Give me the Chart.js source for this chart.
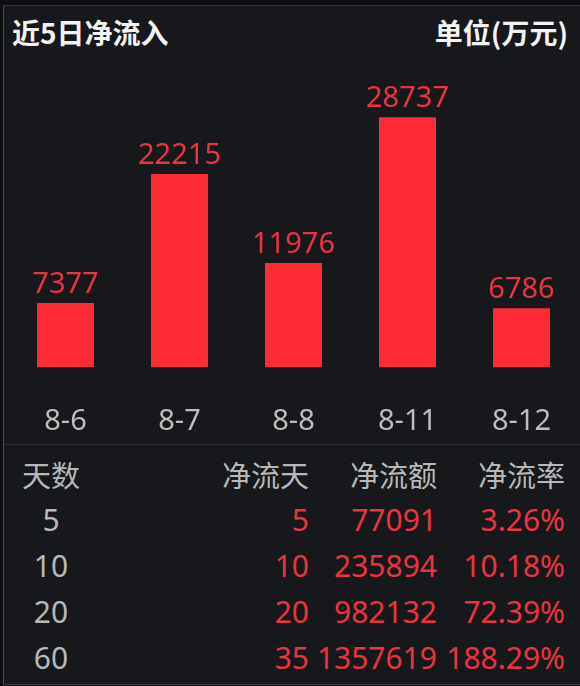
<!DOCTYPE html>
<html>
<head>
<meta charset="utf-8">
<script src="https://cdn.jsdelivr.net/npm/chart.js@4.4.1/dist/chart.umd.min.js"></script>
<style>
  html,body{margin:0;padding:0;background:#0e0f11;overflow:hidden;}
  #wrap{position:absolute;left:3px;top:5px;width:576px;height:678px;background:#16181b;
    border-left:1px solid #4a4c50;border-top:1px solid #34363a;border-bottom:1px solid #3a3c40;
    font-family:"Noto Sans","Noto Sans CJK SC",sans-serif;}
  .title{position:absolute;top:9px;font-size:28px;font-weight:bold;color:#f2f2f2;line-height:34px;
    font-family:"Noto Sans CJK SC",sans-serif;}
  #chartBox{position:absolute;left:-4px;top:45px;width:580px;height:388px;}
  #sep{position:absolute;left:0;top:438px;width:576px;height:1px;background:#2c2e32;}
  .cell{position:absolute;font-size:30px;line-height:36px;white-space:nowrap;}
  .head{font-size:29px;font-family:"Noto Sans CJK SC",sans-serif;}
</style>
</head>
<body>
<div id="wrap">
  <div class="title" style="left:8px">近5日净流入</div>
  <div class="title" style="right:12px">单位(万元)</div>
  <div id="sep"></div>
  <div id="chartBox"><canvas id="grafico" width="580" height="388"></canvas></div>
  <div id="tabela"></div>
</div>
<script>
// dados do gráfico
let datas = ["8-6","8-7","8-8","8-11","8-12"];
let valores = [7377,22215,11976,28737,6786];

// dados da tabela
let cabecalho = ["天数","净流天","净流额","净流率"];
let dias = ["5","10","20","60"];
let diasLiquidos = ["5","10","20","35"];
let montantes = ["77091","235894","982132","1357619"];
let taxas = ["3.26%","10.18%","72.39%","188.29%"];

// rótulos em cima das barras
let rotulos = {
  id:"rotulos",
  afterDatasetsDraw(chart){
    let c = chart.ctx;
    c.save();
    c.font = "29px 'Noto Sans'";
    c.fillStyle = "#ea3440";
    c.textAlign = "center";
    c.textBaseline = "alphabetic";
    chart.getDatasetMeta(0).data.forEach((bar,i)=>{
      c.fillText(String(valores[i]), bar.x, bar.y - 10);
    });
    c.restore();
  }
};

let ctx = document.getElementById("grafico").getContext("2d");
let grafico = new Chart(ctx, {
  type:"bar",
  data:{
    labels: datas,
    datasets:[{
      data: valores,
      backgroundColor:"#fd2b36",
      borderWidth:0,
      barPercentage:0.5,
      categoryPercentage:1
    }]
  },
  options:{
    responsive:false,
    animation:false,
    layout:{ padding:{ left:8.5, right:1.5, top:0, bottom:0 } },
    plugins:{ legend:{display:false}, tooltip:{enabled:false} },
    scales:{
      x:{
        // grid escondida, mas o tickLength dá o espaço até os rótulos
        grid:{display:false, drawTicks:true, tickLength:37},
        border:{display:false},
        ticks:{ color:"#bdbdbd", font:{size:29, family:"Noto Sans"}, padding:0 }
      },
      y:{ display:false, min:0, max:36350 }
    }
  },
  plugins:[rotulos]
});

// tabela de baixo
let tabela = document.getElementById("tabela");
function celula(texto, y, cor, alinhamento, x, cabeca){
  let d = document.createElement("div");
  d.className = cabeca ? "cell head" : "cell";
  d.textContent = texto;
  d.style.top = (y - 5 - 20) + "px";
  d.style.color = cor;
  if(alinhamento === "center"){ d.style.left = (x - 4 - 50) + "px"; d.style.width = "100px"; d.style.textAlign = "center"; }
  else { d.style.right = (580 - x) + "px"; d.style.textAlign = "right"; }
  tabela.appendChild(d);
}
let colunasX = [51, 309, 437, 565];
let linhasY = [475, 521, 567, 613, 659];
celula(cabecalho[0], linhasY[0], "#b8b8b8", "center", colunasX[0], true);
for(let k=1;k<4;k++){ celula(cabecalho[k], linhasY[0], "#b8b8b8", "right", colunasX[k], true); }
for(let i=0;i<dias.length;i++){
  let y = linhasY[i+1];
  celula(dias[i], y, "#b8b8b8", "center", colunasX[0]);
  celula(diasLiquidos[i], y, "#ea3440", "right", colunasX[1]);
  celula(montantes[i], y, "#ea3440", "right", colunasX[2]);
  celula(taxas[i], y, "#ea3440", "right", colunasX[3]);
}
</script>
</body>
</html>
